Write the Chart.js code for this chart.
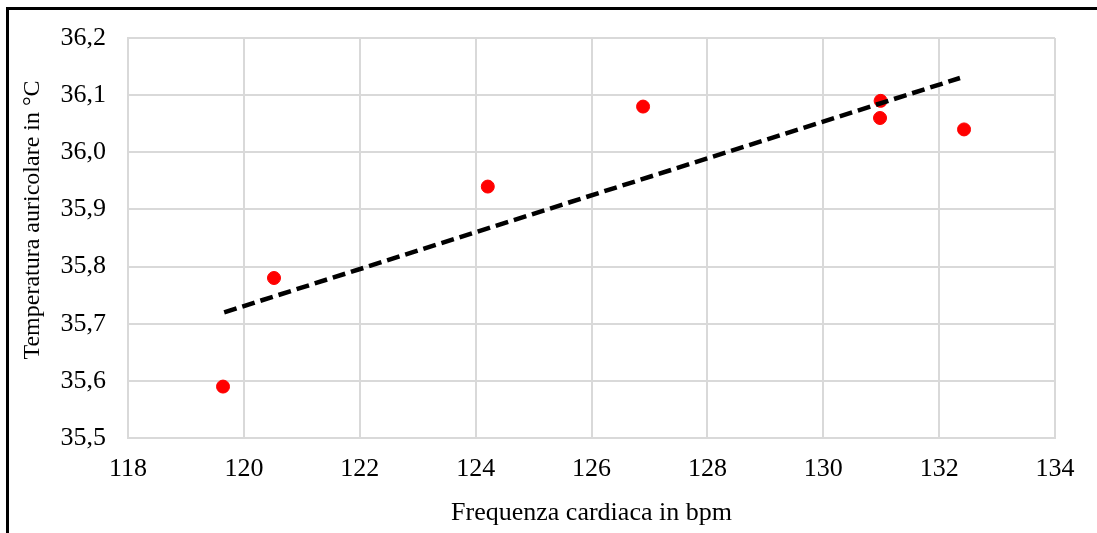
<!DOCTYPE html>
<html>
<head>
<meta charset="utf-8">
<script src="https://cdn.jsdelivr.net/npm/chart.js@4"></script>
<style>
  body { margin: 0; background: #fff; }
  #wrap { position: relative; width: 1097px; height: 533px; }
  #frame { position: absolute; left: 6px; top: 7px; right: -10px; bottom: -10px;
           border-left: 3px solid #000; border-top: 3px solid #000; pointer-events: none; }
</style>
</head>
<body>
<div id="wrap">
  <canvas id="chart" width="1097" height="533"></canvas>
  <div id="frame"></div>
</div>
<script>
// data
const heartRate = [119.64, 120.52, 124.21, 126.89, 130.99, 130.98, 132.43];
const earTemp = [35.59, 35.78, 35.94, 36.08, 36.09, 36.06, 36.04];

// trendline ends
const trendX = [119.66, 132.36];
const trendY = [35.72, 36.13];

const xTicks = [118, 120, 122, 124, 126, 128, 130, 132, 134];
const yTicks = [35.5, 35.6, 35.7, 35.8, 35.9, 36.0, 36.1, 36.2];

const yTitle = 'Temperatura auricolare in °C';
const serif = "'Liberation Serif', 'Times New Roman', serif";

// y title sits a bit above the middle in the original, so draw it by hand
const yTitlePlugin = {
    id: 'yTitle',
    afterDraw(chart) {
        const c = chart.ctx;
        c.save();
        c.translate(33, 220);
        c.rotate(-Math.PI / 2);
        c.font = '24px ' + serif;
        c.fillStyle = '#000';
        c.textAlign = 'center';
        c.textBaseline = 'middle';
        c.fillText(yTitle, 0, 0);
        c.restore();
    }
};

const ctx = document.getElementById('chart');

new Chart(ctx, {
    type: 'scatter',
    data: {
        datasets: [{
            label: 'trend',
            data: trendX.map((x, i) => ({ x: x, y: trendY[i] })),
            showLine: true,
            borderColor: '#000',
            borderWidth: 4.5,
            borderDash: [13, 6],
            pointRadius: 0,
            fill: false
        }, {
            label: 'punti',
            data: heartRate.map((x, i) => ({ x: x, y: earTemp[i] })),
            backgroundColor: '#ff0000',
            borderColor: '#ff0000',
            pointRadius: 6.5,
            pointHoverRadius: 6.5
        }]
    },
    plugins: [yTitlePlugin],
    options: {
        responsive: false,
        animation: false,
        layout: { padding: { top: 38, right: 42, left: 0, bottom: 0 } },
        plugins: { legend: { display: false }, tooltip: { enabled: false } },
        scales: {
            x: {
                type: 'linear',
                min: 118,
                max: 134,
                afterBuildTicks: s => { s.ticks = xTicks.map(v => ({ value: v })); },
                afterFit: s => { s.height = 95; },
                grid: { color: '#d9d9d9', lineWidth: 2, drawTicks: false },
                border: { color: '#d9d9d9', width: 2 },
                ticks: {
                    color: '#000',
                    padding: 16,
                    font: { family: serif, size: 26 }
                },
                title: {
                    display: true,
                    text: 'Frequenza cardiaca in bpm',
                    color: '#000',
                    padding: { top: -5 },
                    font: { family: serif, size: 26 }
                }
            },
            y: {
                type: 'linear',
                min: 35.5,
                max: 36.2,
                afterBuildTicks: s => { s.ticks = yTicks.map(v => ({ value: v })); },
                afterFit: s => { s.width = 128; },
                grid: { color: '#d9d9d9', lineWidth: 2, drawTicks: false },
                border: { color: '#d9d9d9', width: 2 },
                ticks: {
                    color: '#000',
                    padding: 22,
                    font: { family: serif, size: 26 },
                    callback: v => v.toFixed(1).replace('.', ',')
                },
                title: { display: false }
            }
        }
    }
});
</script>
</body>
</html>
